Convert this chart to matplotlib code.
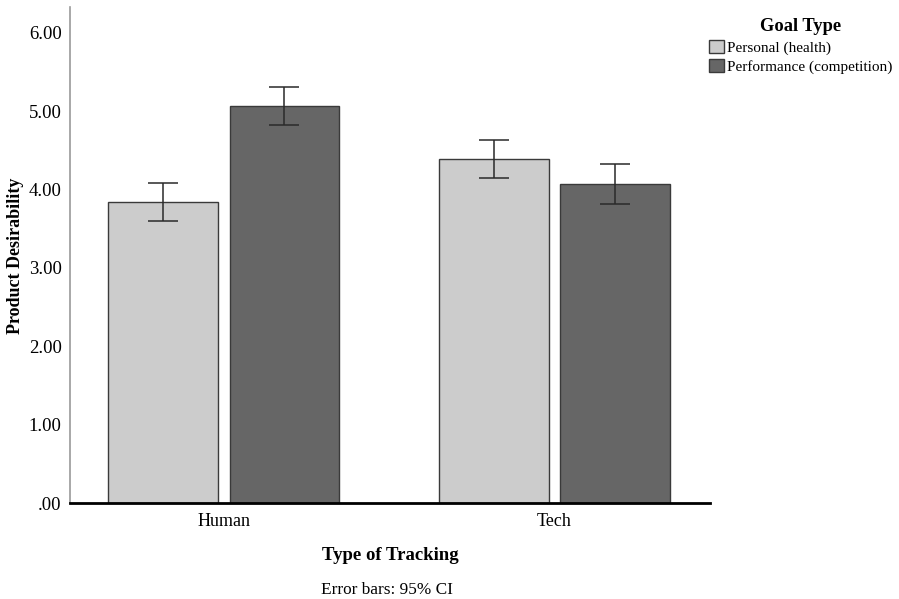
import matplotlib
matplotlib.use("Agg")
import matplotlib.pyplot as plt
from matplotlib.patches import Patch
import numpy as np

categories = ["Human", "Tech"]
series_names = ["Personal (health)", "Performance (competition)"]
personal = [3.84, 4.39]
personal_lo = [3.60, 4.15]
personal_hi = [4.08, 4.63]
performance = [5.07, 4.07]
performance_lo = [4.82, 3.82]
performance_hi = [5.31, 4.32]
yticks = [0, 1, 2, 3, 4, 5, 6]
ytick_labels = [".00", "1.00", "2.00", "3.00", "4.00", "5.00", "6.00"]

plt.rcParams['font.family'] = ['Liberation Serif', 'DejaVu Serif']

fig = plt.figure(figsize=(8.99, 5.99), dpi=100)
ax = fig.add_axes([70/899, (599-503)/599, (710-70)/899, (503-7)/599])

x = np.arange(len(categories))
w = 0.332
off = 0.184
colors = ["#cccccc", "#666666"]
edge = "#3a3a3a"

for vals, lo, hi, sgn, col in [(personal, personal_lo, personal_hi, -1, colors[0]),
                               (performance, performance_lo, performance_hi, 1, colors[1])]:
    vals = np.array(vals); lo = np.array(lo); hi = np.array(hi)
    ax.bar(x + sgn*off, vals, width=w, color=col, edgecolor=edge, linewidth=1.0, zorder=2)
    ax.errorbar(x + sgn*off, vals, yerr=[vals - lo, hi - vals], fmt='none',
                ecolor="#2a2a2a", elinewidth=1.1, capsize=11, capthick=1.1, zorder=3)

ax.set_xlim(-0.464, 1.470)
ax.set_ylim(0, 6.33)
ax.set_yticks(yticks)
ax.set_yticklabels(ytick_labels, fontsize=13.5)
ax.set_xticks(x)
ax.set_xticklabels(categories, fontsize=13)
ax.tick_params(axis='x', length=0, pad=7)
ax.tick_params(axis='y', length=0, pad=6)
for s in ["top", "right"]:
    ax.spines[s].set_visible(False)
ax.spines["left"].set_color("#9a9a9a")
ax.spines["left"].set_linewidth(1.2)
ax.spines["bottom"].set_color("black")
ax.spines["bottom"].set_linewidth(2.0)
ax.spines["bottom"].set_zorder(4)

fig.text(16/899, 1 - 256/599, "Product Desirability", rotation=90, fontsize=13,
         fontweight='bold', ha='center', va='center')
fig.text(390/899, 1 - 555/599, "Type of Tracking", fontsize=13.5, fontweight='bold',
         ha='center', va='center')
fig.text(387/899, 1 - 590/599, "Error bars: 95% CI", fontsize=12.4, ha='center', va='center')

handles = [Patch(facecolor=colors[0], edgecolor=edge, linewidth=1.0),
           Patch(facecolor=colors[1], edgecolor=edge, linewidth=1.0)]
leg = fig.legend(handles, series_names, loc='upper left', bbox_to_anchor=(706/899, 1 - 15/599),
                 frameon=False, fontsize=11, title="Goal Type",
                 title_fontproperties={'weight': 'bold', 'size': 13.3},
                 handlelength=0.95, handleheight=0.95, handletextpad=0.25,
                 labelspacing=0.3, borderaxespad=0, borderpad=0.2)

fig.savefig("out.png", dpi=100)
